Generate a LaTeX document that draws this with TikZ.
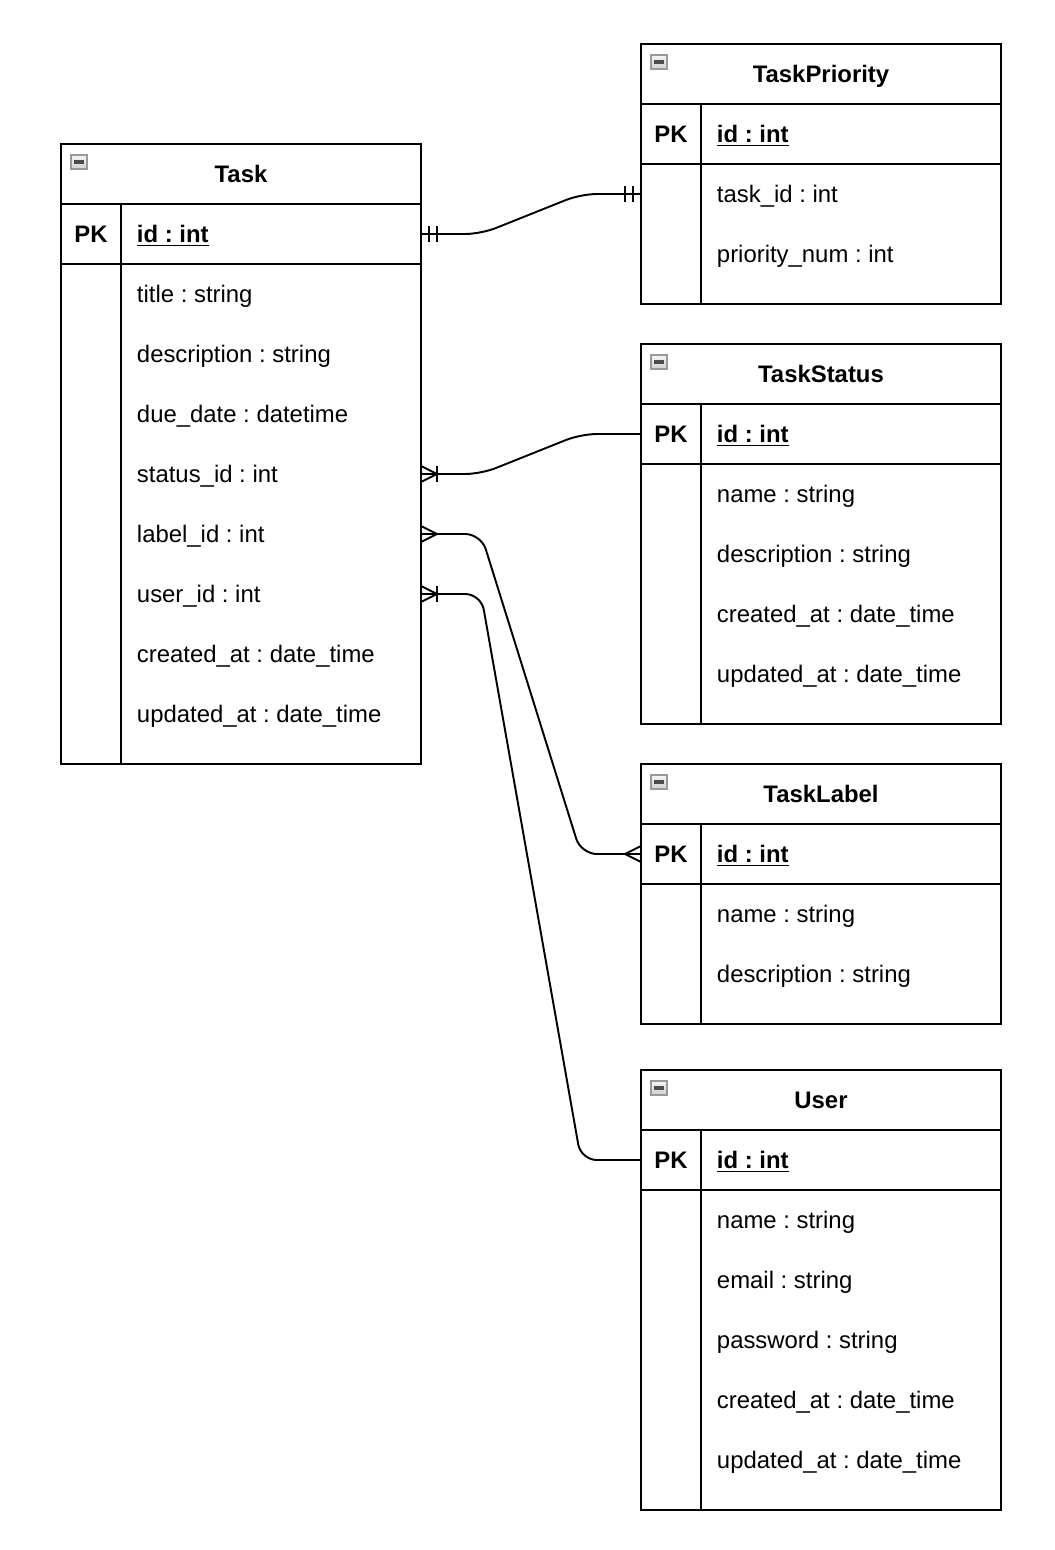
\documentclass[tikz,border=0pt]{standalone}
\usepackage{fontspec}
\setmainfont{Liberation Sans}
\usetikzlibrary{calc}
\frenchspacing
\def\entity[#1](#2,#3:#4){%
	\coordinate (#1-w) at (#2,0);
	\coordinate (#1-e) at (#2+360,0);
	\draw (#2,#3) rectangle (#2+360,#4);
	\draw (#2,#3+60) -- (#2+360,#3+60);
	\draw (#2,#3+120) -- (#2+360,#3+120);
	\draw (#2+60,#3+60) -- (#2+60,#4);
	\draw[black!40, top color=black!4, bottom color=black!18, line width=0.6pt] (#2+10,#3+11) rectangle (#2+26,#3+25);
	\draw[black!70, line width=1.9pt] (#2+13,#3+18) -- (#2+23,#3+18);}
\def\crowone(#1)[#2]{\draw ($(#1)+(#2*8,-8)$) -- ($(#1)+(#2*8,8)$) ($(#1)+(#2*16,-8)$) -- ($(#1)+(#2*16,8)$);}
\def\crowmany(#1)[#2]{\draw ($(#1)+(0,-8)$) -- ($(#1)+(#2*16,0)$) -- ($(#1)+(0,8)$);}
\def\crowonemany(#1)[#2]{\crowmany(#1)[#2]\draw ($(#1)+(#2*16,-8)$) -- ($(#1)+(#2*16,8)$);}

\begin{document}
\begin{tikzpicture}[x=0.02cm, y=-0.02cm, line width=1.1pt,
	every node/.style={inner sep=0pt, font=\fontsize{13.6}{16}\selectfont, text height=9.8pt, text depth=0pt},
	title/.style={font=\fontsize{13.6}{16}\selectfont\bfseries},
	pk/.style={font=\fontsize{13.6}{16}\selectfont\bfseries},
	key/.style={anchor=west, font=\fontsize{13.6}{16}\selectfont\bfseries},
	field/.style={anchor=west}]
			%%%%% START %%%%%
			\useasboundingbox (0,0) rectangle (1054,1550);
			
			%%%%% TASK %%%%%
			\entity[task](61,144:764)
			\node[title] (task) at (241,174) {Task};
			\node[pk] (task-pk) at (91,234) {PK};
			\node[key] (task-id) at (136,234) {\underline{id : int}};
			\foreach \f [count=\i] in {title : string, description : string, due\_date : datetime, status\_id : int, label\_id : int, user\_id : int, created\_at : date\_time, updated\_at : date\_time}
				\node[field] (task-f\i) at (136,234+60*\i) {\f};
			
			%%%%% TASKPRIORITY %%%%%
			\entity[prio](641,44:304)
			\node[title] (prio) at (821,74) {TaskPriority};
			\node[pk] (prio-pk) at (671,134) {PK};
			\node[key] (prio-id) at (716,134) {\underline{id : int}};
			\foreach \f [count=\i] in {task\_id : int, priority\_num : int}
				\node[field] (prio-f\i) at (716,134+60*\i) {\f};
			
			%%%%% TASKSTATUS %%%%%
			\entity[stat](641,344:724)
			\node[title] (stat) at (821,374) {TaskStatus};
			\node[pk] (stat-pk) at (671,434) {PK};
			\node[key] (stat-id) at (716,434) {\underline{id : int}};
			\foreach \f [count=\i] in {name : string, description : string, created\_at : date\_time, updated\_at : date\_time}
				\node[field] (stat-f\i) at (716,434+60*\i) {\f};
			
			%%%%% TASKLABEL %%%%%
			\entity[lbl](641,764:1024)
			\node[title] (lbl) at (821,794) {TaskLabel};
			\node[pk] (lbl-pk) at (671,854) {PK};
			\node[key] (lbl-id) at (716,854) {\underline{id : int}};
			\foreach \f [count=\i] in {name : string, description : string}
				\node[field] (lbl-f\i) at (716,854+60*\i) {\f};
			
			%%%%% USER %%%%%
			\entity[user](641,1070:1510)
			\node[title] (user) at (821,1100) {User};
			\node[pk] (user-pk) at (671,1160) {PK};
			\node[key] (user-id) at (716,1160) {\underline{id : int}};
			\foreach \f [count=\i] in {name : string, email : string, password : string, created\_at : date\_time, updated\_at : date\_time}
				\node[field] (user-f\i) at (716,1160+60*\i) {\f};
			
			%%%%% RELATIONS %%%%%
			\coordinate (prio-a) at (task-id -| task-e);
			\coordinate (prio-b) at (prio-f1 -| prio-w);
			\draw[rounded corners=9pt] (prio-a) -- ++(60,0) -- ($(prio-b)+(-60,0)$) -- (prio-b);
			\crowone(prio-a)[1]
			\crowone(prio-b)[-1]
			
			\coordinate (stat-a) at (task-f4 -| task-e);
			\coordinate (stat-b) at (stat-id -| stat-w);
			\draw[rounded corners=9pt] (stat-a) -- ++(60,0) -- ($(stat-b)+(-60,0)$) -- (stat-b);
			\crowonemany(stat-a)[1]
			
			\coordinate (lbl-a) at (task-f5 -| task-e);
			\coordinate (lbl-b) at (lbl-id -| lbl-w);
			\draw[rounded corners=9pt] (lbl-a) -- ++(60,0) -- ($(lbl-b)+(-60,0)$) -- (lbl-b);
			\crowmany(lbl-a)[1]
			\crowmany(lbl-b)[-1]
			
			\coordinate (user-a) at (task-f6 -| task-e);
			\coordinate (user-b) at (user-id -| user-w);
			\draw[rounded corners=9pt] (user-a) -- ++(60,0) -- ($(user-b)+(-60,0)$) -- (user-b);
			\crowonemany(user-a)[1]
			
			%%%%% END %%%%%
\end{tikzpicture}
\end{document}
